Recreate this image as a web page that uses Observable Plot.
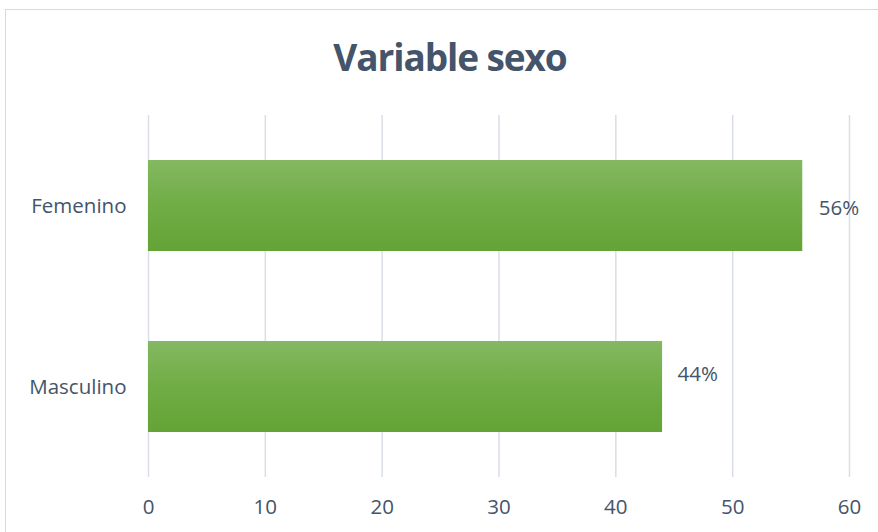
<!DOCTYPE html>
<html>
<head>
<meta charset="utf-8">
<script src="https://cdn.jsdelivr.net/npm/d3@7"></script>
<script src="https://cdn.jsdelivr.net/npm/@observablehq/plot@0.6"></script>
<style>
  html, body { margin: 0; padding: 0; background: #fff; }
  #wrap { position: relative; width: 878px; height: 532px; overflow: hidden; background: #fff; }
  #frame { position: absolute; left: 5px; top: 9px; width: 900px; height: 600px; border: 1px solid #d9d9d9; box-sizing: border-box; }
  #title { position: absolute; left: 0; top: 33px; width: 900px; text-align: center; font-family: "Open Sans", sans-serif; font-weight: 700; font-size: 37px; color: #44546A; line-height: 48px; letter-spacing: -1.1px; }
  #chart { position: absolute; left: 0; top: 0; }
</style>
</head>
<body>
<div id="wrap">
  <div id="frame"></div>
  <div id="chart"></div>
  <div id="title">Variable sexo</div>
</div>
<script>
const categories = ["Femenino", "Masculino"];
const values = [56, 44];
const xTicks = [0, 10, 20, 30, 40, 50, 60];

const data = categories.map((c, i) => ({ category: c, value: values[i], label: values[i] + "%" }));

const textColor = "#44546A";
const font = "Open Sans, sans-serif";
const fs = 20.5;

const chart = Plot.plot({
  width: 878,
  height: 532,
  marginLeft: 148,
  marginRight: 29,
  marginTop: 115,
  marginBottom: 55,
  style: { fontFamily: font, fontSize: fs + "px", color: textColor, background: "transparent", overflow: "visible" },
  x: { domain: [0, 60], ticks: xTicks, label: null },
  y: { domain: categories, paddingInner: 0.5, paddingOuter: 0.25, label: null },
  marks: [
    Plot.gridX(xTicks, { stroke: "#d9dde5", strokeOpacity: 1, strokeWidth: 1.5 }),
    Plot.barX(data, { y: "category", x: "value", fill: "url(#barGrad)" }),
    Plot.axisX({ ticks: xTicks, tickSize: 0, tickPadding: 22, fontSize: fs, fill: textColor }),
    Plot.axisY({ tickSize: 0, tickPadding: 22, fontSize: fs, fill: textColor }),
    Plot.text(data.filter(d => d.category === "Femenino"), { y: "category", x: "value", text: "label", textAnchor: "start", dx: 16, dy: 2, fontSize: fs, fill: textColor }),
    Plot.text(data.filter(d => d.category === "Masculino"), { y: "category", x: "value", text: "label", textAnchor: "start", dx: 15, dy: -13, fontSize: fs, fill: textColor })
  ]
});

const svg = d3.select(chart);
svg.selectAll("text").style("font-size", fs + "px");
const defs = svg.insert("defs", ":first-child");
const grad = defs.append("linearGradient").attr("id", "barGrad").attr("x1", 0).attr("y1", 0).attr("x2", 0).attr("y2", 1);
grad.append("stop").attr("offset", "0%").attr("stop-color", "#84B862");
grad.append("stop").attr("offset", "50%").attr("stop-color", "#70AD45");
grad.append("stop").attr("offset", "100%").attr("stop-color", "#64A336");

document.getElementById("chart").appendChild(chart);
</script>
</body>
</html>
